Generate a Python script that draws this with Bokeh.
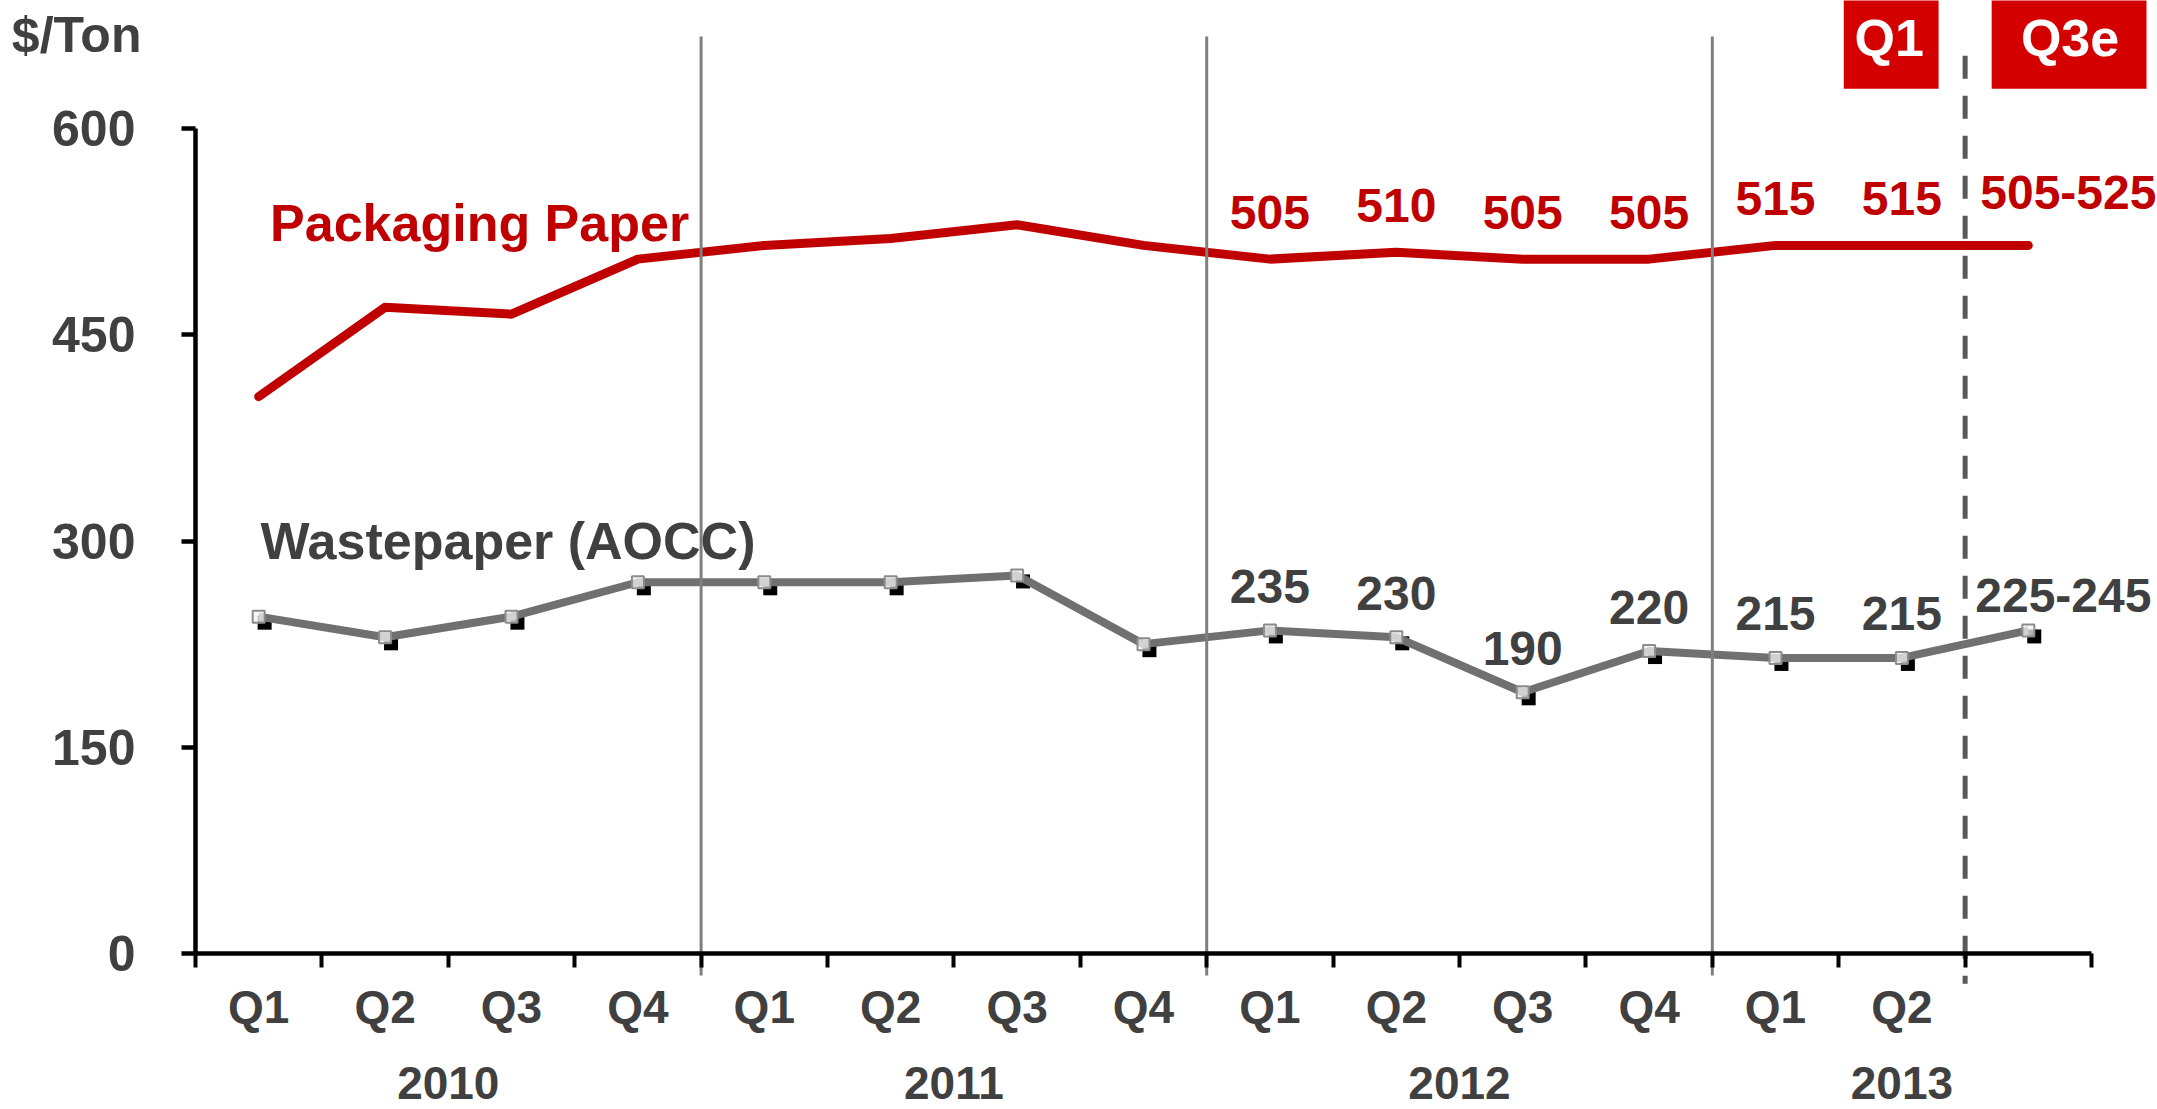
from bokeh.plotting import figure
from bokeh.models import FixedTicker, ColumnDataSource, Range1d, LinearAxis
from bokeh.core.properties import value
from bokeh.transform import dodge
from bokeh.embed import file_html
from bokeh.resources import INLINE

# ---------------- data ----------------
quarters = ["Q1", "Q2", "Q3", "Q4", "Q1", "Q2", "Q3", "Q4",
            "Q1", "Q2", "Q3", "Q4", "Q1", "Q2", ""]
quarter_years = ["2010"] * 4 + ["2011"] * 4 + ["2012"] * 4 + ["2013"] * 3
years = ["2010", "2011", "2012", "2013"]
is_estimate = [False] * 14 + [True]
packaging = [405, 470, 465, 505, 515, 520, 530, 515, 505, 510, 505, 505, 515, 515, 515]
wastepaper = [245, 230, 245, 270, 270, 270, 275, 225, 235, 230, 190, 220, 215, 215, 235]
packaging_labels = ["505", "510", "505", "505", "515", "515"]     # from 2012 Q1 on
wastepaper_labels = ["235", "230", "190", "220", "215", "215"]
labelled_from = 8
packaging_range = "505-525"
wastepaper_range = "225-245"
y_ticks = [0, 150, 300, 450, 600]
period_tags = ["Q1", "Q3e"]

# ---------------- style ----------------
FONT = value("Liberation Sans")
FONT_NAME = "Liberation Sans"
RED = "#C00000"
BOX_RED = "#D40000"
DARK = "#404040"
LINE_GRAY = "#707070"
SEP_GRAY = "#7F7F7F"
DASH_GRAY = "#595959"

n = len(quarters)
xs = list(range(n))

# the frame covers the whole canvas; axes are pinned with fixed_location
p = figure(width=2157, height=1109, output_backend="svg", toolbar_location=None,
           x_range=Range1d(-2.0427, 15.022), y_range=Range1d(-113.45, 693.1),
           min_border_left=0, min_border_right=0, min_border_top=0,
           min_border_bottom=0)
p.outline_line_color = None
p.grid.visible = False
p.background_fill_color = "white"
p.border_fill_color = "white"

# x axis (quarters)
xa = p.xaxis[0]
xa.fixed_location = 0
xa.ticker = FixedTicker(ticks=xs, minor_ticks=[i - 0.5 for i in range(n + 1)])
xa.major_label_overrides = {i: q for i, q in zip(xs, quarters)}
xa.bounds = (-0.5, n - 0.5)
xa.axis_line_width = 4.5
xa.axis_line_color = "black"
xa.major_tick_out = 0
xa.major_tick_in = 0
xa.minor_tick_out = 14
xa.minor_tick_in = 0
xa.minor_tick_line_width = 4
xa.minor_tick_line_color = "black"
xa.major_label_standoff = 13
xa.major_label_text_font = FONT_NAME
xa.major_label_text_font_style = "bold"
xa.major_label_text_font_size = "46px"
xa.major_label_text_color = DARK

# second x axis (years)
year_centers = []
for y in years:
    idx = [i for i, qy in enumerate(quarter_years) if qy == y]
    year_centers.append((idx[0] - 0.5 + idx[-1] + 0.5) / 2)
year_over = {}
for c, y in zip(year_centers, years):
    year_over[c] = y
    year_over[("%g" % c)] = y
ya2 = LinearAxis(fixed_location=0, ticker=FixedTicker(ticks=year_centers),
                 major_label_overrides=year_over, axis_line_color=None,
                 major_tick_line_color=None, minor_tick_line_color=None,
                 major_tick_out=0, major_tick_in=0, minor_tick_out=0, minor_tick_in=0,
                 major_label_standoff=113, major_label_text_font=FONT_NAME,
                 major_label_text_font_style="bold", major_label_text_font_size="46px",
                 major_label_text_color=DARK)
p.add_layout(ya2, "below")

# y axis
ya = p.yaxis[0]
ya.fixed_location = -0.5
ya.ticker = FixedTicker(ticks=y_ticks)
ya.bounds = (0, 600)
ya.axis_line_width = 4.5
ya.axis_line_color = "black"
ya.major_tick_out = 14
ya.major_tick_in = 0
ya.major_tick_line_width = 4.5
ya.major_tick_line_color = "black"
ya.minor_tick_out = 0
ya.minor_tick_in = 0
ya.major_label_standoff = 46
ya.major_label_text_font = FONT_NAME
ya.major_label_text_font_style = "bold"
ya.major_label_text_font_size = "50px"
ya.major_label_text_color = DARK

src = ColumnDataSource(dict(x=xs, pack=packaging, waste=wastepaper))

# packaging paper line
p.line("x", "pack", source=src, line_color=RED, line_width=9,
       line_cap="round", line_join="round")

# wastepaper: shadow markers, line, hollow markers
p.scatter(x=dodge("x", 0.047), y=dodge("waste", -4.4), source=src, marker="square",
          size=14, fill_color="black", line_color=None)
p.line("x", "waste", source=src, line_color=LINE_GRAY, line_width=8, line_join="round")
p.scatter("x", "waste", source=src, marker="square", size=12,
          fill_color="#F2F2F2", fill_alpha=0.75, line_color="#8C8C8C", line_width=2)

# year separators and actual/estimate divider, drawn over the lines
for i in range(1, n):
    if quarter_years[i] != quarter_years[i - 1]:
        p.segment(x0=[i - 0.5], y0=[667], x1=[i - 0.5], y1=[-16],
                  line_color=SEP_GRAY, line_width=3)
    if is_estimate[i] and not is_estimate[i - 1]:
        p.segment(x0=[i - 0.5], y0=[653], x1=[i - 0.5], y1=[-22],
                  line_color=DASH_GRAY, line_width=5, line_dash="23 17")

# value labels
m = len(packaging_labels)
lx = xs[labelled_from:labelled_from + m]
p.text(x=lx, y=packaging[labelled_from:labelled_from + m],
       text=packaging_labels, y_offset=-47, text_align="center", text_baseline="middle",
       text_font=FONT, text_font_style="bold", text_font_size="48px", text_color=RED)
p.text(x=lx, y=wastepaper[labelled_from:labelled_from + m],
       text=wastepaper_labels, y_offset=-44, text_align="center", text_baseline="middle",
       text_font=FONT, text_font_style="bold", text_font_size="48px", text_color=DARK)
p.text(x=[xs[-1]], y=[packaging[-1]], text=[packaging_range], x_offset=40, y_offset=-53,
       text_align="center", text_baseline="middle",
       text_font=FONT, text_font_style="bold", text_font_size="48px", text_color=RED)
p.text(x=[xs[-1]], y=[wastepaper[-1]], text=[wastepaper_range], x_offset=35, y_offset=-35,
       text_align="center", text_baseline="middle",
       text_font=FONT, text_font_style="bold", text_font_size="48px", text_color=DARK)

# series names
p.text(x=[0.09], y=[531], text=["Packaging Paper"], text_align="left",
       text_baseline="middle", text_font=FONT, text_font_style="bold",
       text_font_size="52px", text_color=RED)
p.text(x=[0.014], y=[299.7], text=["Wastepaper (AOCC)"], text_align="left",
       text_baseline="middle", text_font=FONT, text_font_style="bold",
       text_font_size="52px", text_color=DARK)

# unit label
p.text(x=[-1.953], y=[668.2], text=["$/Ton"], text_align="left",
       text_baseline="middle", text_font=FONT, text_font_style="bold",
       text_font_size="50px", text_color=DARK)

# period tags at top
p.quad(left=[12.54, 13.71], right=[13.29, 14.935], bottom=[629, 629], top=[720, 720],
       fill_color=BOX_RED, line_color=None)
p.text(x=[12.9, 14.33], y=[665.5, 665.5], text=period_tags, text_align="center",
       text_baseline="middle", text_font=FONT, text_font_style="bold",
       text_font_size="52px", text_color="white")

open("out.html", "w").write(file_html(p, INLINE))
